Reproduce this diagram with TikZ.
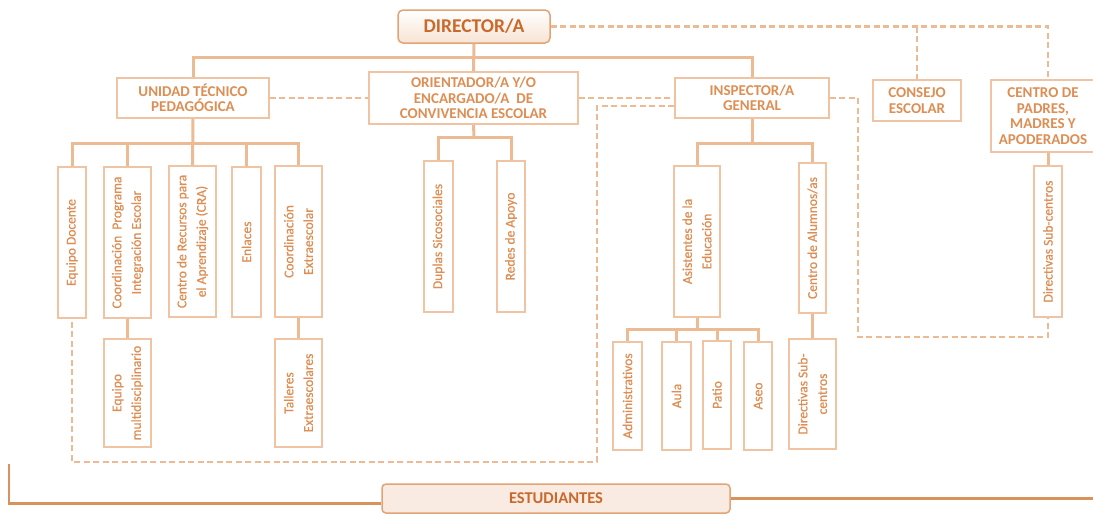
\documentclass[tikz,border=0pt]{standalone}
\usepackage{fontspec}
\setmainfont{Carlito}
\newfontfamily\unitfont[FakeBold=0.8]{Carlito}
\definecolor{boxline}{HTML}{F0C4A2}
\definecolor{linkline}{HTML}{ECBB94}
\definecolor{boxtext}{HTML}{DD8E54}
\definecolor{dirtext}{HTML}{C96A2C}
\definecolor{dirline}{HTML}{E2A475}
\definecolor{estline}{HTML}{D9925C}
\definecolor{estfill}{HTML}{F9EBE1}

\begin{document}
\begin{tikzpicture}[x=1pt,y=-1pt,
	head/.style={draw=boxline, line width=1.5pt, text=boxtext, font=\bfseries\fontsize{15}{15.5}\selectfont, align=center, inner sep=0pt},
	unit/.style={draw=boxline, line width=1.5pt, text=boxtext, font=\unitfont\fontsize{13.5}{19.5}\selectfont, align=center, inner sep=0pt, rotate=90},
	link/.style={draw=linkline, line width=3pt},
	dashline/.style={draw=linkline, line width=2.8pt, dash pattern=on 6pt off 3.5pt},
	estlink/.style={draw=estline, line width=2.6pt}]
	\useasboundingbox (0,0) rectangle (1093,514);

	\node[head, draw=dirline, rounded corners=5pt, top color=white, bottom color=estfill!80!boxline, text=dirtext, font=\bfseries\fontsize{19.5}{22}\selectfont, minimum width=152pt, minimum height=33pt] (dir) at (474,26.5) {DIRECTOR/A};

	\node[head, minimum width=152pt, minimum height=40pt] (utp) at (193,98) {UNIDAD TÉCNICO\\PEDAGÓGICA};
	\node[head, minimum width=209pt, minimum height=52pt] (ori) at (473.5,98) {ORIENTADOR/A Y/O\\ENCARGADO/A\ \ DE\\CONVIVENCIA ESCOLAR};
	\node[head, minimum width=154pt, minimum height=40pt] (insp) at (752,98) {INSPECTOR/A\\GENERAL};
	\node[head, minimum width=88pt, minimum height=41pt] (cons) at (917,100.5) {CONSEJO\\ESCOLAR};
	\node[head, minimum width=104pt, minimum height=72pt] (cpad) at (1043,116) {CENTRO DE\\PADRES,\\MADRES Y\\APODERADOS};

	\node[unit, minimum width=151pt, minimum height=28pt] (ed) at (72,242.5) {Equipo Docente};
	\node[unit, minimum width=151pt, minimum height=47pt] (pie) at (127.5,242.5) {Coordinación\ \ Programa\\Integración Escolar};
	\node[unit, minimum width=151pt, minimum height=47pt] (cra) at (192.5,241.5) {Centro de Recursos para\\el Aprendizaje (CRA)};
	\node[unit, minimum width=150pt, minimum height=29pt] (enl) at (246.5,242) {Enlaces};
	\node[unit, minimum width=151pt, minimum height=47pt] (cex) at (298.5,241.5) {Coordinación\\Extraescolar};
	\node[unit, minimum width=108pt, minimum height=47pt] (emu) at (127.5,393) {Equipo\\multidisciplinario};
	\node[unit, minimum width=108pt, minimum height=47pt] (tal) at (298.5,393) {Talleres\\Extraescolares};

	\node[unit, minimum width=151pt, minimum height=29pt] (dup) at (438.5,236.5) {Duplas Sicosociales};
	\node[unit, minimum width=151pt, minimum height=28pt] (red) at (511,236.5) {Redes de Apoyo};

	\node[unit, minimum width=151pt, minimum height=46pt] (ase) at (697,241.5) {Asistentes de la\\Educación};
	\node[unit, minimum width=150pt, minimum height=27pt] (cal) at (812.5,238) {Centro de Alumnos/as};
	\node[unit, minimum width=108pt, minimum height=29pt] (adm) at (627.5,396) {Administrativos};
	\node[unit, minimum width=108pt, minimum height=29pt] (aul) at (676.5,396) {Aula};
	\node[unit, minimum width=108pt, minimum height=28pt] (pat) at (717,395) {Patio};
	\node[unit, minimum width=108pt, minimum height=28pt] (aseo) at (758,396) {Aseo};
	\node[unit, minimum width=110pt, minimum height=47pt] (dsc) at (812.5,394) {Directivas Sub-\\centros};

	\node[unit, minimum width=151pt, minimum height=28pt] (dsp) at (1048,241.5) {Directivas Sub-centros};

	\node[head, draw=dirline, rounded corners=4pt, fill=estfill, text=dirtext, font=\bfseries\fontsize{16.5}{18}\selectfont, minimum width=348pt, minimum height=29pt] (est) at (556,498.5) {ESTUDIANTES};

	\coordinate (tbus) at (474,57);
	\coordinate (ubus) at (193,143);
	\coordinate (obus) at (474,137);
	\coordinate (ibus) at (752,143);
	\coordinate (abus) at (697,329);
	\coordinate (dloop) at (597,462);
	\coordinate (rloop) at (858,337);
	\coordinate (eleft) at (9,464);
	\coordinate (eright) at (1093,499);

	\draw[link] (dir.south) -- (ori.north);
	\draw[link] (utp.north) |- (tbus) -| (insp.north);

	\draw[link] (utp.south) -- (cra.east);
	\draw[link] (ed.east) |- (ubus) -| (cex.east);
	\draw[link] (pie.east) |- (ubus);
	\draw[link] (enl.east) |- (ubus);
	\draw[link] (pie.west) -- (emu.east);
	\draw[link] (cex.west) -- (tal.east);

	\draw[link] (ori.south) -- (obus);
	\draw[link] (dup.east) |- (obus) -| (red.east);

	\draw[link] (insp.south) -- (ibus);
	\draw[link] (ase.east) |- (ibus) -| (cal.east);
	\draw[link] (ase.west) -- (abus);
	\draw[link] (adm.east) |- (abus) -| (aseo.east);
	\draw[link] (aul.east) |- (abus);
	\draw[link] (pat.east) |- (abus);
	\draw[link] (cal.west) -- (dsc.east);

	\draw[link] (dsp.east |- cpad.south) -- (dsp.east);

	\draw[dashline] (utp.east) -- (ori.west);
	\draw[dashline] (ori.east) -- (insp.west);
	\draw[dashline] ([yshift=-8pt]insp.west) -| (dloop) -| (ed.west);
	\draw[dashline] (insp.east) -| (rloop) -| (dsp.west);
	\draw[dashline] (dir.east) -| ([xshift=5pt]cpad.north);
	\draw[dashline] (dir.east -| cons.north) -- (cons.north);

	\draw[estlink] ([yshift=-5pt]est.west) -| (eleft);
	\draw[estlink] (est.east) -- (est.east -| eright);
\end{tikzpicture}
\end{document}
